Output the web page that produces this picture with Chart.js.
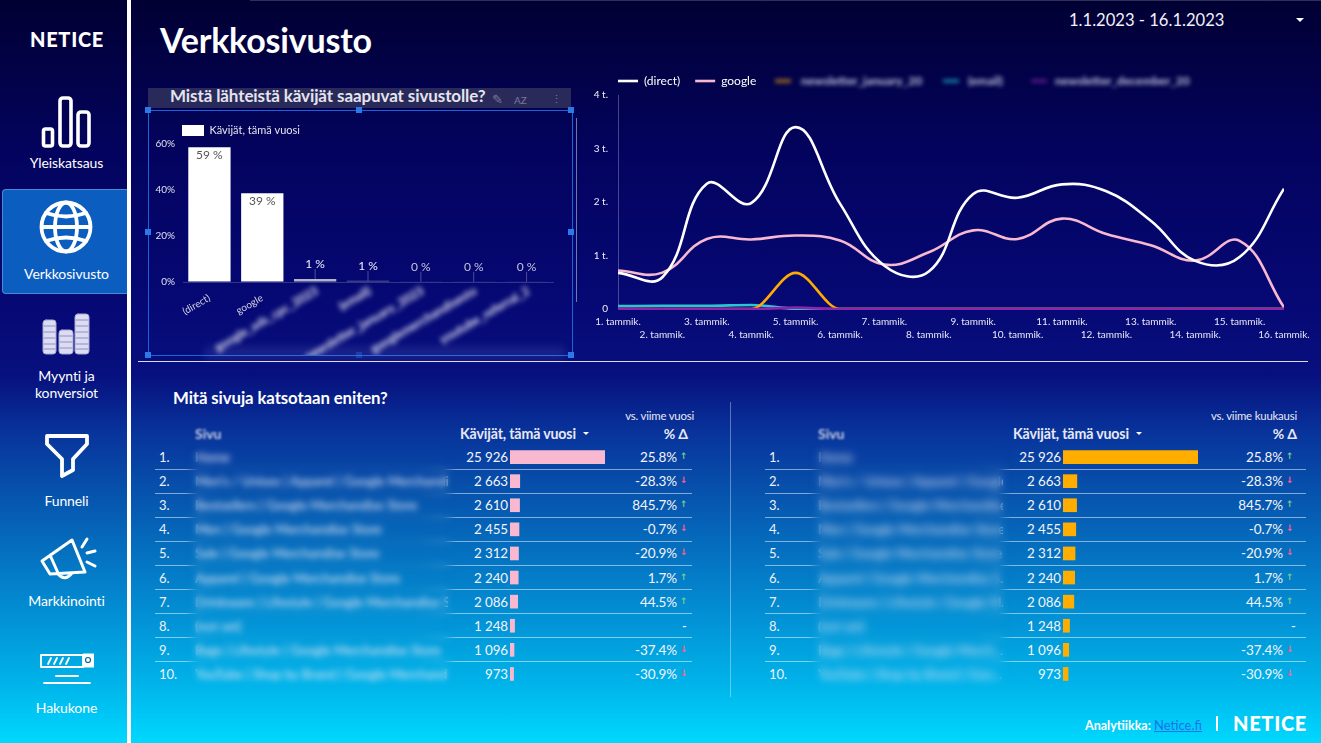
<!DOCTYPE html>
<html lang="fi"><head><meta charset="utf-8"><title>Verkkosivusto</title>
<script src="https://cdn.jsdelivr.net/npm/chart.js@4"></script>
<style>
html,body{margin:0;padding:0}
body{width:1321px;height:743px;overflow:hidden;position:relative;font-family:Lato,"Open Sans",sans-serif;color:#fff;
background:linear-gradient(180deg,#010033 0,#03035e 150px,#060874 300px,#07107e 375px,#08329a 430px,#0659b0 505px,#0388cf 600px,#00b4ea 685px,#00d8ff 743px)}
.a{position:absolute;white-space:nowrap}
canvas{position:absolute;display:block}
.nav{position:absolute;left:0;width:127px;text-align:center;font-size:14px;line-height:17px;transform:translateX(3px);letter-spacing:-.1px}
</style></head><body>
<div class="a" style="left:127px;top:0;width:3.5px;height:743px;background:#fff"></div>
<div class="a" style="left:250px;top:0;width:1071px;height:1px;background:rgba(255,255,255,.18)"></div>
<div class="a" style="left:2px;top:189px;width:125px;height:105px;box-sizing:border-box;background:#0b5ebf;border:1.5px solid #4c8ad0;border-right:0;border-radius:4px 0 0 4px"></div>
<div class="a" style="left:30px;top:27px;font-size:20px;font-weight:900;letter-spacing:.7px">NETICE</div>
<svg class="a" style="left:0;top:0" width="127" height="743" fill="none" stroke="#fff" stroke-linejoin="round" stroke-linecap="round">
<g stroke-width="3.6"><rect x="43.5" y="129" width="9" height="17" rx="2"/><rect x="60" y="98" width="11" height="48" rx="3"/><rect x="78" y="112" width="11" height="34" rx="3"/></g>
<g stroke-width="3.8"><circle cx="66" cy="227" r="24.5"/><ellipse cx="66" cy="227" rx="11" ry="24.5"/><path d="M46 213Q66 220 86 213M46 241Q66 234 86 241M42 227H90"/></g>
<g fill="#dcdcf2" stroke="#a8a8d4" stroke-width="1"><rect x="43" y="320" width="13" height="34" rx="3"/><rect x="59" y="330" width="14" height="24" rx="3"/><rect x="75" y="314" width="14" height="40" rx="3"/></g>
<path d="M44 326H55M44 332H55M44 338H55M44 344H55M44 349H55M60 336H72M60 342H72M60 348H72M76 320H88M76 326H88M76 332H88M76 338H88M76 344H88M76 349H88" stroke="#8f8fc8" stroke-width="1"/>
<path d="M47 436H87V444L73 459V470L62 476V459L47 444Z" stroke-width="3.8"/>
<g stroke-width="3"><path d="M42 561L72 540L85 572L50 574ZM50 555L58 573M58 574Q65 582 72 573M82 547L87 539M87 553L95 551M87 562L95 566"/></g>
<g stroke-width="1.8"><rect x="41" y="655" width="42" height="12"/><path d="M48 664L51 658M54 664L57 658M60 664L63 658M66 664L69 658M56 676H78M44 683H90"/></g>
<rect x="83" y="653.5" width="11" height="14" fill="#fff" stroke="none"/><circle cx="88" cy="660" r="2.5" stroke="#06a" stroke-width="1.2"/>
</svg>
<div class="nav" style="top:154px">Yleiskatsaus</div>
<div class="nav" style="top:265px">Verkkosivusto</div>
<div class="nav" style="top:367px">Myynti ja<br>konversiot</div>
<div class="nav" style="top:492px">Funneli</div>
<div class="nav" style="top:592px">Markkinointi</div>
<div class="nav" style="top:699px">Hakukone</div>

<div class="a" style="left:160px;top:20px;font-size:34px;font-weight:700;line-height:40px;letter-spacing:-.2px">Verkkosivusto</div>
<div class="a" style="left:1069px;top:10px;font-size:16.6px;line-height:20px;color:#f2f2f8">1.1.2023 - 16.1.2023</div>
<div class="a" style="left:1296px;top:18px;width:0;height:0;border-left:4px solid transparent;border-right:4px solid transparent;border-top:4px solid #fff"></div>

<div class="a" style="left:148px;top:88px;width:423px;height:20px;background:#2a2a5a"></div>
<div class="a" style="left:170px;top:86px;font-size:17px;font-weight:700;line-height:20px;color:#e4e4ee;letter-spacing:-.1px">Mistä lähteistä kävijät saapuvat sivustolle?</div>
<div class="a" style="left:492px;top:91px;font-size:13px;color:#77779a">✎</div>
<div class="a" style="left:514px;top:94px;font-size:10px;color:#77779a">AZ</div>
<div class="a" style="left:551px;top:92px;font-size:11px;color:#77779a">⋮</div>
<div class="a" style="left:148px;top:110px;width:423px;height:244px;border:1px solid #1b63d6"></div>
<div class="a" style="left:576px;top:118px;width:1px;height:184px;background:rgba(255,255,255,.45)"></div>
<div class="a" style="left:205px;top:347px;width:360px;height:12px;background:rgba(190,200,255,.12);filter:blur(4px)"></div>
<div id="handles"></div>

<canvas id="sourceChart" style="left:148px;top:91px;width:424px;height:264px" width="424" height="264"></canvas>
<canvas id="trendChart" style="left:590px;top:60px;width:731px;height:298px" width="731" height="298"></canvas>

<div class="a" style="left:138px;top:361px;width:1170px;height:1px;background:rgba(255,255,255,.85)"></div>
<div class="a" style="left:729.5px;top:402px;width:1.5px;height:295px;background:rgba(255,255,255,.35)"></div>
<div class="a" style="left:173px;top:388px;font-size:16.8px;font-weight:700;line-height:20px;letter-spacing:-.1px">Mitä sivuja katsotaan eniten?</div>

<div id="tableA"></div><div id="tableB"></div>
<canvas id="barsA" style="left:510px;top:445px;width:95px;height:241px" width="95" height="241"></canvas>
<canvas id="barsB" style="left:1063px;top:445px;width:135px;height:241px" width="135" height="241"></canvas>

<div class="a" style="left:1085px;top:717px;font-size:12.5px;font-weight:700;line-height:16px">Analytiikka: <span style="font-weight:400;font-size:13px;color:#1a73e8;text-decoration:underline">Netice.fi</span></div>
<div class="a" style="left:1216px;top:716px;width:1.5px;height:15px;background:#fff"></div>
<div class="a" style="left:1233px;top:711px;font-size:20px;font-weight:900;letter-spacing:.7px">NETICE</div>

<script>
const days=["1. tammik.","2. tammik.","3. tammik.","4. tammik.","5. tammik.","6. tammik.","7. tammik.","8. tammik.","9. tammik.","10. tammik.","11. tammik.","12. tammik.","13. tammik.","14. tammik.","15. tammik.","16. tammik."];
const directVisits=[675,594,2340,1980,3400,1970,810,700,2150,2080,2330,2200,1650,900,970,2250];
const googleVisits=[720,680,1310,1300,1375,1280,830,1060,1470,1310,1690,1400,1190,905,1275,30];
const campaignVisits=[0,0,0,0,675,0,0,0,0,0,0,0,0,0,0,0];
const emailVisits=[55,60,60,75,5,0,0,0,0,0,0,0,0,0,0,0];
const newsletterVisits=[0,0,0,0,25,0,0,0,0,0,0,0,0,0,0,0];
const trendLabels=["(direct)","google","newsletter_january_20","(email)","newsletter_december_20"];
const trendYTicks=["0","1 t.","2 t.","3 t.","4 t."];
const sources=["(direct)","google","google_ads_cpc_2023","(email)","newsletter_january_2023","googlemerchandisesto","youtube_referral_2"];
const sourceShares=[58.6,38.6,1.3,0.5,0.15,0.1,0.1];
const sourceLabels=["59 %","39 %","1 %","1 %","0 %","0 %","0 %"];
const pagesA=["Home","Men's / Unisex | Apparel | Google Merchandise S...","Bestsellers | Google Merchandise Store","Men | Google Merchandise Store","Sale | Google Merchandise Store","Apparel | Google Merchandise Store","Drinkware | Lifestyle | Google Merchandise S...","(not set)","Bags | Lifestyle | Google Merchandise Store","YouTube | Shop by Brand | Google Merchandi..."];
const pagesB=["Home","Men's / Unisex | Apparel | Google...","Bestsellers | Google Merchandise","Men | Google Merchandise Store","Sale | Google Merchandise Store","Apparel | Google Merchandise S...","Drinkware | Lifestyle | Google M...","(not set)","Bags | Lifestyle | Google Merch...","YouTube | Shop by Brand | Goo..."];
const pageVisitors=[25926,2663,2610,2455,2312,2240,2086,1248,1096,973];
const pageChange=[25.8,-28.3,845.7,-0.7,-20.9,1.7,44.5,null,-37.4,-30.9];

Chart.defaults.font.family='Lato';
Chart.defaults.animation=false;

[[148,110,1],[359,110,1],[571,110,1],[148,232,1],[571,232,1],[148,355,1],[359,355,.35],[571,355,1]].forEach(p=>{
 const d=document.createElement('div');d.className='a';
 d.style.cssText=`left:${p[0]-3}px;top:${p[1]-3}px;width:6px;height:6px;background:#2a7be8;opacity:${p[2]};z-index:3`;
 document.getElementById('handles').appendChild(d);});

const shiftLegend=left=>({id:'shiftLegend',afterLayout(c){c.legend.left=left;}});

const sourceLabelPlugin={id:'sourceLabelPlugin',afterDatasetsDraw(c){
 const x=c.scales.x,y=c.scales.y,ctx=c.ctx,base=y.getPixelForValue(0);
 ctx.save();ctx.textAlign='center';ctx.textBaseline='middle';ctx.font='12px Lato';
 sourceShares.forEach((v,i)=>{
  const px=x.getPixelForTick(i),top=y.getPixelForValue(v);
  if(i<2){ctx.fillStyle='#555';ctx.fillText(sourceLabels[i],px,top+8);}
  else{ctx.fillStyle='rgba(255,255,255,.28)';ctx.fillRect(px-.5,top-10,1,10);
   ctx.fillStyle=i<4?'#eef':'#c4c4dc';ctx.fillText(sourceLabels[i],px,top-15);}
 });
 ctx.filter='blur(2.6px)';ctx.fillStyle='#e8e8f4';ctx.font='bold 12px Lato';ctx.textAlign='right';
 sources.forEach((s,i)=>{ if(i<2)return;
  ctx.save();ctx.translate(x.getPixelForTick(i)+2,base+8);ctx.rotate(-30*Math.PI/180);ctx.fillText(s,0,0);ctx.restore();});
 ctx.restore();}};
new Chart(document.getElementById('sourceChart'),{type:'bar',plugins:[sourceLabelPlugin],
 data:{labels:sources,datasets:[{label:'Kävijät, tämä vuosi',data:sourceShares,barPercentage:.8,categoryPercentage:1,
  backgroundColor:['#fff','#fff','#b4b4c8','#6a6a98','#33337a','#33337a','#33337a'],borderWidth:0}]},
 options:{responsive:false,devicePixelRatio:1,layout:{padding:{left:0,right:19,top:0,bottom:0}},
  plugins:{tooltip:{enabled:false},legend:{position:'top',align:'start',maxHeight:53,labels:{boxWidth:22,boxHeight:11,padding:34,color:'#e4e4f0',font:{size:11},
    generateLabels:c=>[{text:c.data.datasets[0].label,fillStyle:'#fff',strokeStyle:'#fff',lineWidth:0,fontColor:'#e4e4f0'}]}}},
  scales:{
   x:{afterFit:s=>{s.height=73},grid:{display:false},border:{color:'rgba(170,170,210,.28)'},
    ticks:{autoSkip:false,minRotation:30,maxRotation:30,padding:2,color:'#d0d0e0',font:{size:10},callback(v,i){return i<2?sources[i]:''}}},
   y:{min:0,max:60,afterFit:s=>{s.width=35},border:{display:false},
    grid:{drawTicks:false,color:'rgba(0,0,0,0)'},
    afterBuildTicks:s=>{s.ticks=[0,20,40,60].map(value=>({value}))},
    ticks:{padding:8,color:'#e0e0ee',font:{size:10},callback:v=>v+'%'}}}}});

const blurLegendPlugin={id:'blurLegendPlugin',afterDraw(c){
 const ctx=c.ctx,y=81-60,xs=[775,943,1031],tx=[26,25,24];
 ctx.save();ctx.filter='blur(2.3px)';ctx.font='bold 12px Lato';ctx.textBaseline='middle';
 [2,3,4].forEach((d,i)=>{const ds=c.data.datasets[d],x=xs[i]-590;
  ctx.globalAlpha=.55;ctx.fillStyle=ds.borderColor;ctx.fillRect(x,y-2,16,4);
  ctx.globalAlpha=.85;ctx.fillStyle='#dfe4f4';ctx.fillText(ds.label,x+tx[i],y);});
 ctx.restore();}};
const line=(label,data,color,extra)=>Object.assign({label,data,borderColor:color,backgroundColor:color,borderWidth:2.6,pointRadius:0,tension:.42,clip:{left:0,top:0,right:0,bottom:1}},extra);
new Chart(document.getElementById('trendChart'),{type:'line',plugins:[blurLegendPlugin,shiftLegend(13)],
 data:{labels:days,datasets:[
  line(trendLabels[0],directVisits,'#ffffff',{order:2}),
  line(trendLabels[1],googleVisits,'#f8b8d0',{order:3}),
  line(trendLabels[2],campaignVisits,'#ffab00',{order:4,cubicInterpolationMode:'monotone'}),
  line(trendLabels[3],emailVisits,'#26c6da',{order:5,cubicInterpolationMode:'monotone'}),
  line(trendLabels[4],newsletterVisits,'#8e24aa',{order:1,cubicInterpolationMode:'monotone'})]},
 options:{responsive:false,devicePixelRatio:1,layout:{padding:{left:0,right:37,top:0,bottom:0}},
  plugins:{tooltip:{enabled:false},legend:{position:'top',align:'start',maxHeight:35,
    labels:{filter:i=>i.datasetIndex<2,usePointStyle:true,pointStyle:'line',pointStyleWidth:20,boxHeight:12,padding:15,color:'#fff',font:{size:12}}}},
  scales:{
   x:{offset:false,afterFit:s=>{s.height=49},grid:{display:false},border:{display:false},
    ticks:{autoSkip:false,minRotation:0,maxRotation:0,padding:-2,color:'#e8e8f4',font:{size:10,lineHeight:1.3},
     callback(v,i){return i%2?['',days[i]]:[days[i],'']}}},
   y:{min:0,max:4000,afterFit:s=>{s.width=28},grid:{display:false},border:{color:'rgba(170,170,210,.4)'},
    afterBuildTicks:s=>{s.ticks=trendYTicks.map((t,i)=>({value:i*1000}))},
    ticks:{padding:2,color:'#f0f0f8',font:{size:10},callback:(v)=>trendYTicks[v/1000]}}}}});

const rowCentre=i=>457+i*24.1;
const fmt=n=>String(n).replace(/\B(?=(\d{3})+$)/g,' ');
function table(host,pages,L){
 let h='';
 const put=(x,y,txt,st,right)=>`<div class="a" style="${right?`right:${1321-x}px`:`left:${x}px`};top:${y}px;${st}">${txt}</div>`;
 h+=put(L.vsRight,409,L.vs,'font-size:11.4px;line-height:14px;color:#e8e8f4;letter-spacing:-.2px',1);
 h+=put(L.head,425,'Kävijät, tämä vuosi','font-size:14.2px;font-weight:700;line-height:18px;color:#e8e8f4;letter-spacing:-.15px');
 h+=`<div class="a" style="left:${L.caret}px;top:432px;width:0;height:0;border-left:3px solid transparent;border-right:3px solid transparent;border-top:3px solid #fff"></div>`;
 h+=put(L.deltaHead,425,'% Δ','font-size:14px;font-weight:700;line-height:18px;color:#e8e8f4',1);
 const n0=L.name-L.line0-5,n1=n0+L.nameW-5;
 pageVisitors.forEach((v,i)=>{
  const y=rowCentre(i)-9;
  if(i<9)h+=`<div class="a" style="left:${L.line0}px;width:${L.line1-L.line0}px;top:${Math.round(rowCentre(i)+11.5)}px;height:1px;background:linear-gradient(90deg,rgba(255,255,255,.5) ${n0-5}px,rgba(255,255,255,.1) ${n0+25}px,rgba(255,255,255,.1) ${n1-25}px,rgba(255,255,255,.5) ${n1+5}px)"></div>`;
  h+=put(L.idx,y,(i+1)+'.','font-size:13px;line-height:18px;color:#f0f0f8');
  h+=put(L.val,y,fmt(v),'font-size:13.4px;line-height:18px;color:#f4f4fa;letter-spacing:-.1px',1);
  const c=pageChange[i];
  if(c===null)h+=put(L.dash,y,'-','font-size:13px;line-height:18px');
  else{
   h+=put(L.pct,y,c.toFixed(1)+'%','font-size:13.5px;line-height:18px;color:#f4f4fa;letter-spacing:-.1px',1);
   h+=put(L.arrow,y-1,c>=0?'↑':'↓',`font-family:'DejaVu Sans';font-size:9px;line-height:18px;font-weight:700;color:${c>=0?'#6fd08e':'#ff5c8a'}`);
  }
  h+=put(L.name,y,pages[i],`font-size:13px;line-height:18px;color:#e0e4f4;max-width:${L.nameW-5}px;overflow:hidden`);
 });
 h+=put(L.name,425,'Sivu','font-size:14px;font-weight:700;line-height:18px;color:#c8cce0;filter:blur(1px)');
 const m='linear-gradient(90deg,transparent,#000 14px,#000 calc(100% - 14px),transparent)';
 h+=`<div class="a" style="left:${L.name-10}px;top:445px;width:${L.nameW+14}px;height:242px;backdrop-filter:blur(${L.blur}px);-webkit-backdrop-filter:blur(${L.blur}px);mask-image:${m};-webkit-mask-image:${m}"></div>`;
 host.innerHTML=h;
}
table(document.getElementById('tableA'),pagesA,{vs:'vs. viime vuosi',vsRight:694,head:460,caret:583,deltaHead:688,line0:155,line1:692,idx:159,val:508,pct:677,arrow:680,dash:682,name:195,nameW:258,blur:3});
table(document.getElementById('tableB'),pagesB,{vs:'vs. viime kuukausi',vsRight:1297,head:1013,caret:1136,deltaHead:1297,line0:765,line1:1306,idx:769,val:1061,pct:1283,arrow:1286,dash:1291,name:818,nameW:190,blur:4.5});

const tableBars=(id,color)=>new Chart(document.getElementById(id),{type:'bar',
 data:{labels:pageVisitors.map((v,i)=>i+1),datasets:[{data:pageVisitors,backgroundColor:color,barThickness:13}]},
 options:{indexAxis:'y',responsive:false,devicePixelRatio:1,layout:{padding:0},plugins:{legend:{display:false},tooltip:{enabled:false}},
  scales:{x:{display:false,min:0,max:25926},y:{display:false}}}});
tableBars('barsA','#f8b8d0');
tableBars('barsB','#ffae00');
</script>
</body></html>
